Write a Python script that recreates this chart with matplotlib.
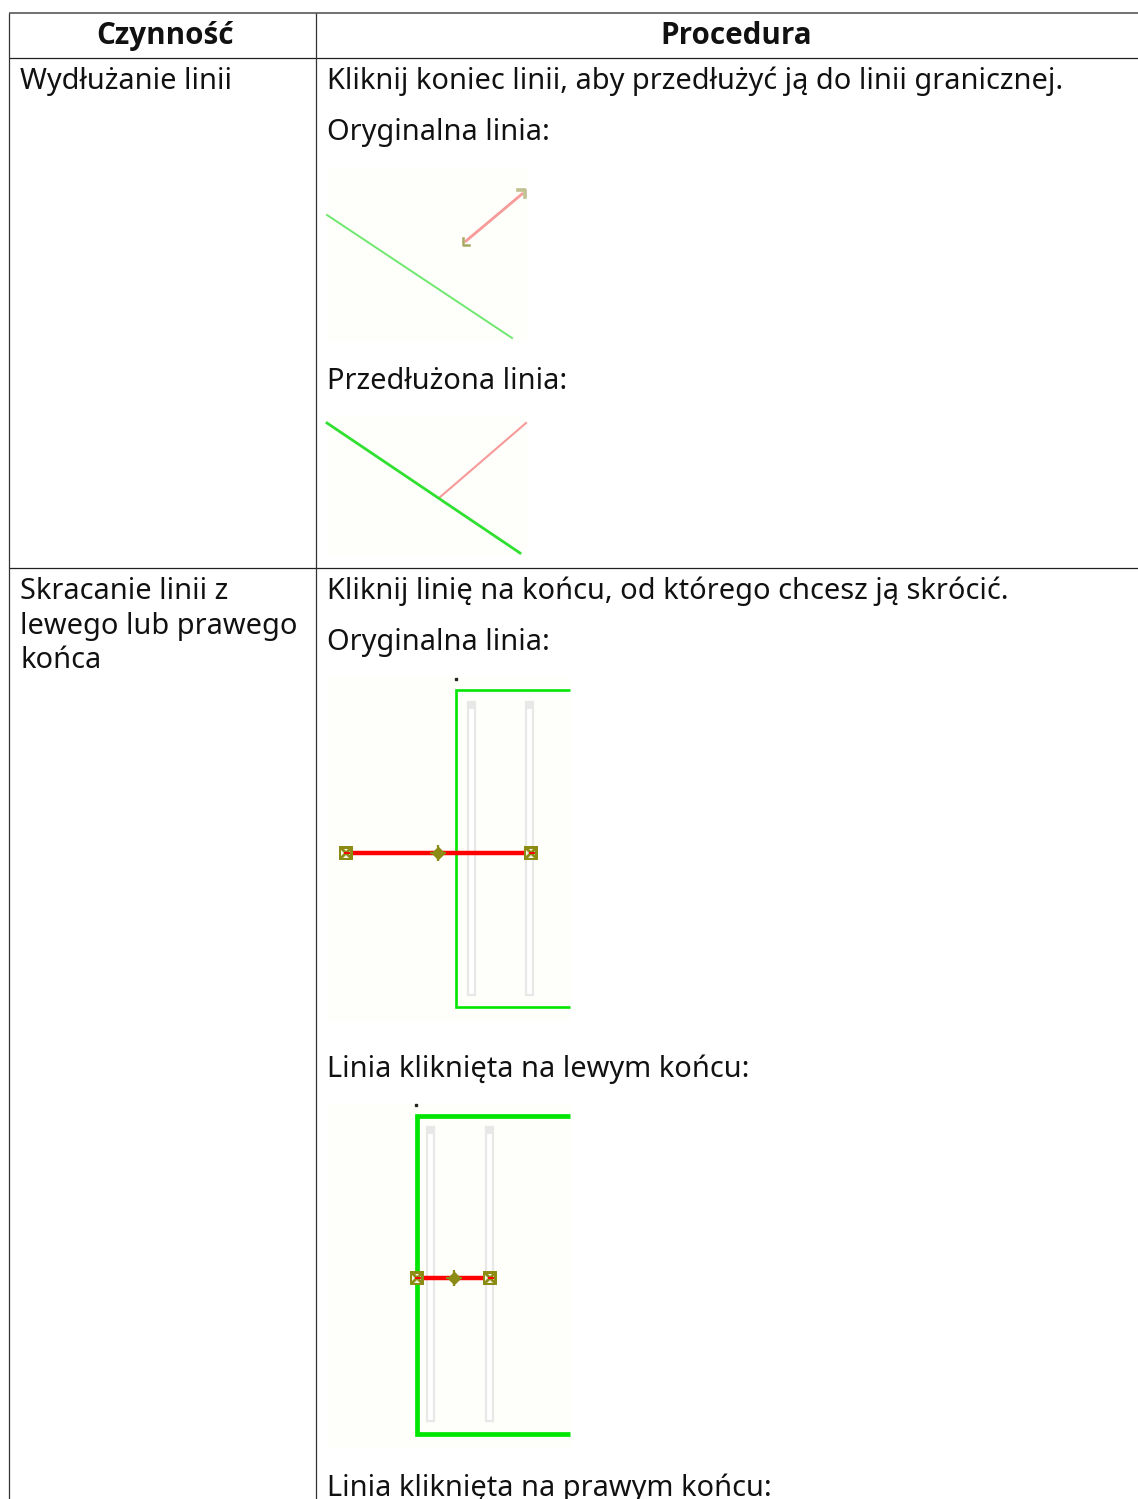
#!/usr/bin/env python3
import matplotlib
matplotlib.use("Agg")
import matplotlib.pyplot as plt
import matplotlib.patches as mpatches

W, H = 1138, 1499
FONT = "Noto Sans"
BOLD_FONT = "Open Sans"   # Noto Sans here has no bold face
FS = 20.85
HEADER_FS = 21.3

BG = "#fefefa"
GREEN = "#00e600"
PALE_GREEN = "#6fe86f"
RED = "#ff0000"
PALE_RED = "#f79a9a"
OLIVE = "#8c8c14"
SLOT = "#e8e8e8"

# ---- table text (x, baseline y) -------------------------------------------
HEADERS = ["Czynność", "Procedura"]
HEADER_X = [165.5, 736.5]
HEADER_Y = 32
CELLS = [
    (20.5, 77.5, "Wydłużanie linii"),
    (20.5, 587.5, "Skracanie linii z"),
    (20.5, 622.5, "lewego lub prawego"),
    (20.5, 656.5, "końca"),
    (327, 77.5, "Kliknij koniec linii, aby przedłużyć ją do linii granicznej."),
    (327, 128.5, "Oryginalna linia:"),
    (327, 377.5, "Przedłużona linia:"),
    (327, 587.5, "Kliknij linię na końcu, od którego chcesz ją skrócić."),
    (327, 638.5, "Oryginalna linia:"),
    (327, 1065.5, "Linia kliknięta na lewym końcu:"),
    (327, 1484.5, "Linia kliknięta na prawym końcu:"),
]

# ---- table rules ----------------------------------------------------------
H_RULES = [(13, "#666666", 1.3), (58, "#222222", 0.9), (568, "#222222", 0.9)]
V_RULES = [9.5, 316.5]

# ---- screenshot panels: x0, y0, x1, y1 ------------------------------------
PANELS = [(327, 167, 527, 342), (327, 415, 527, 556), (327, 677, 570, 1022), (327, 1103, 570, 1448)]

# first two panels: plain lines
ORIG_GREEN_X, ORIG_GREEN_Y = [327, 512], [215, 338]
ORIG_RED_X, ORIG_RED_Y = [466, 522], [241, 194]
EXT_GREEN_X, EXT_GREEN_Y = [327, 520], [423, 553]
EXT_RED_X, EXT_RED_Y = [439, 526], [498, 423]

# last two panels: left, top, bottom of the box, slots, red line, handles
BOX_LEFT = [456.5, 417]
BOX_TOP = [690, 1116]
BOX_BOTTOM = [1007, 1434]
BOX_LW = [1.9, 3.4]
SLOT_X = [[472, 530], [431, 490]]
SLOT_TOP = [702, 1127]
SLOT_BOTTOM = [995, 1421]
RED_Y = [853, 1278]
RED_X0 = [346, 417]
RED_X1 = [531, 490]
MID_X = [438, 454]
TICK_X = [456.5, 416]
TICK_Y = [679, 1105]
BOX_RIGHT = 570

fig = plt.figure(figsize=(W/100, H/100), dpi=100, facecolor="white")
ax = fig.add_axes([0, 0, 1, 1])
ax.set_xlim(0, W); ax.set_ylim(H, 0)
ax.axis("off")

def handle(x, y):
    # olive square grip with a white centre and an olive/red cross
    ax.add_patch(mpatches.Rectangle((x-7, y-7), 14, 14, fc=OLIVE, ec="none", zorder=6))
    ax.add_patch(mpatches.Rectangle((x-4.5, y-4.5), 9, 9, fc="#f4f4e4", ec="none", zorder=7))
    ax.plot([x-5, x+5], [y+5, y-5], color=OLIVE, lw=2, zorder=8)
    ax.plot([x-5, x+5], [y-5, y+5], color=OLIVE, lw=2, zorder=8)
    ax.plot([x-1, x+3], [y, y], color=RED, lw=1.4, zorder=9)

for x0, y0, x1, y1 in PANELS:
    ax.add_patch(mpatches.Rectangle((x0, y0), x1-x0, y1-y0, fc=BG, ec="none", zorder=1))

# extend-line panels
ax.plot(ORIG_GREEN_X, ORIG_GREEN_Y, color=PALE_GREEN, lw=1.4, zorder=3)
ax.plot(ORIG_RED_X, ORIG_RED_Y, color=PALE_RED, lw=2, zorder=3)
ax.plot([ORIG_RED_X[0]-3, ORIG_RED_X[0]-3, ORIG_RED_X[0]+3], [ORIG_RED_Y[0]-3, ORIG_RED_Y[0]+4, ORIG_RED_Y[0]+4],
        color="#a8a860", lw=1.8, zorder=4)
ax.plot([ORIG_RED_X[1]-4, ORIG_RED_X[1]+3, ORIG_RED_X[1]+3], [ORIG_RED_Y[1]-4, ORIG_RED_Y[1]-4, ORIG_RED_Y[1]+3],
        color="#c0c090", lw=2.6, zorder=4)
ax.plot(EXT_GREEN_X, EXT_GREEN_Y, color="#30e030", lw=2, zorder=3)
ax.plot(EXT_RED_X, EXT_RED_Y, color=PALE_RED, lw=1.5, zorder=2)

# shorten-line panels
for i in range(2):
    for sx in SLOT_X[i]:
        ax.add_patch(mpatches.Rectangle((sx-3.5, SLOT_TOP[i]), 7, SLOT_BOTTOM[i]-SLOT_TOP[i],
                                        fc="white", ec=SLOT, lw=1.6, zorder=2))
        ax.add_patch(mpatches.Rectangle((sx-3.5, SLOT_TOP[i]), 7, 7, fc=SLOT, ec="none", zorder=2))
    ax.plot([BOX_RIGHT, BOX_LEFT[i], BOX_LEFT[i], BOX_RIGHT],
            [BOX_TOP[i], BOX_TOP[i], BOX_BOTTOM[i], BOX_BOTTOM[i]],
            color=GREEN, lw=BOX_LW[i], solid_joinstyle="miter", solid_capstyle="butt", zorder=3)
    ax.plot([RED_X0[i], RED_X1[i]], [RED_Y[i], RED_Y[i]], color=RED, lw=3.2, solid_capstyle="butt", zorder=5)
    handle(RED_X0[i], RED_Y[i]); handle(RED_X1[i], RED_Y[i])
    ax.plot(MID_X[i], RED_Y[i], "D", color=OLIVE, ms=6.5, zorder=6)
    ax.plot(MID_X[i], RED_Y[i], "+", color=OLIVE, ms=12, mew=1.6, zorder=6)
    ax.plot([TICK_X[i]], [TICK_Y[i]], "s", color="#222222", ms=1.5, zorder=6)

for y, c, lw in H_RULES:
    ax.plot([9, W], [y, y], color=c, lw=lw, zorder=9, solid_capstyle="butt")
for x in V_RULES:
    ax.plot([x, x], [13, H], color="#333333", lw=0.9, zorder=9, solid_capstyle="butt")

for x, label in zip(HEADER_X, HEADERS):
    ax.text(x, HEADER_Y, label, family=BOLD_FONT, fontsize=HEADER_FS, fontweight="bold", color="#111111",
            ha="center", va="center_baseline", zorder=10)
for x, y, label in CELLS:
    ax.text(x, y, label, family=FONT, fontsize=FS, color="#111111", ha="left", va="center_baseline", zorder=10)

fig.savefig("out.png", dpi=100)
